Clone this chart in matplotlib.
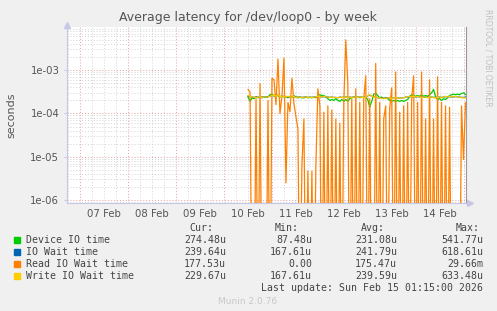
import matplotlib
matplotlib.use("Agg")
import matplotlib.pyplot as plt
import matplotlib.dates as mdates
from matplotlib.ticker import LogLocator, FixedLocator, NullFormatter
from matplotlib.patches import Rectangle
from datetime import datetime, timedelta

# hourly samples, hours counted from 10 Feb 2026 00:00
hours = list(range(12, 122))

device_io = [  # x 1e-4 s
    2.4, 1.9, 2.3, 2.2, 2.4, 2.3, 2.4, 2.3, 2.4, 2.35,
    2.4, 2.7, 2.8, 2.6, 2.5, 2.6, 2.4, 2.5, 2.4, 2.5,
    2.3, 2.5, 2.4, 2.6, 2.4, 2.3, 2.4, 2.3, 2.3, 2.4,
    2.3, 2.35, 2.3, 2.4, 2.3, 2.6, 2.7, 2.6, 2.6, 2.4,
    2.2, 2.0, 2.1, 2.0, 2.2, 2.0, 1.9, 2.1, 1.9, 2.1,
    1.9, 2.2, 2.3, 2.4, 2.3, 2.4, 2.3, 2.4, 2.3, 2.4,
    2.1, 1.4, 1.9, 2.8, 2.9, 2.6, 2.3, 2.4, 2.2, 2.3,
    2.2, 2.0, 1.9, 2.0, 1.9, 2.0, 1.9, 2.0, 1.9, 2.0,
    2.1, 2.5, 2.7, 2.6, 2.5, 2.6, 2.5, 2.7, 2.5, 2.6,
    2.5, 2.7, 3.0, 3.6, 2.4, 2.1, 2.2, 2.0, 2.2, 2.1,
    2.3, 2.6, 2.7, 2.8, 2.7, 2.8, 2.7, 2.9, 3.0, 2.75,
]
io_wait = [  # x 1e-4 s
    2.5, 2.5, 2.4, 2.35, 2.4, 2.4, 2.35, 2.4, 2.4, 2.4,
    2.45, 2.5, 2.6, 2.55, 2.6, 2.65, 2.5, 2.45, 2.5, 2.4,
    2.45, 2.4, 2.4, 2.45, 2.35, 2.4, 2.4, 2.35, 2.4, 2.4,
    2.35, 2.4, 2.35, 2.4, 2.4, 2.5, 2.45, 2.4, 2.45, 2.4,
    2.4, 2.35, 2.4, 2.35, 2.35, 2.3, 2.4, 2.35, 2.4, 2.4,
    2.4, 2.4, 2.35, 2.4, 2.4, 2.35, 2.4, 2.35, 2.35, 2.4,
    2.55, 2.65, 2.5, 2.45, 2.4, 2.3, 2.3, 2.25, 2.3, 2.25,
    2.3, 2.3, 2.25, 2.3, 2.3, 2.3, 2.25, 2.3, 2.3, 2.4,
    2.4, 2.45, 2.4, 2.45, 2.4, 2.45, 2.4, 2.35, 2.4, 2.4,
    2.35, 2.4, 2.4, 2.35, 2.35, 2.4, 2.4, 2.35, 2.4, 2.45,
    2.4, 2.45, 2.4, 2.4, 2.45, 2.4, 2.4, 2.35, 2.35, 2.4,
]
read_io = [  # seconds, 0 = no wait
    3.6e-4, 3.1e-4, 0, 0, 2.2e-4, 0, 4.9e-4, 0, 0, 0,
    2.0e-4, 0, 6.5e-4, 6.0e-4, 1.6e-4, 1.8e-3, 1.0e-4, 2.5e-4, 1.9e-3, 2.5e-6,
    1.8e-4, 1.1e-4, 6.5e-4, 1.7e-4, 8.5e-5, 4.4e-5, 0, 6.1e-6, 7.5e-5, 0,
    4.7e-6, 0, 4.7e-6, 0, 6.1e-6, 3.7e-4, 1.5e-4, 0, 1.07e-4, 0,
    1.5e-4, 0, 1.2e-4, 0, 7.5e-5, 0, 6.0e-5, 0, 1.8e-4, 5.0e-3,
    4.9e-4, 0, 2.2e-4, 0, 3.7e-4, 0, 1.8e-4, 0, 2.2e-4, 7.4e-4,
    0, 2.2e-4, 0, 0, 1.43e-3, 0, 1.8e-4, 0, 7.5e-5, 1.5e-4,
    0, 1.3e-4, 3.9e-4, 0, 9.1e-4, 0, 1.07e-4, 0, 1.5e-4, 0,
    1.8e-4, 0, 2.1e-4, 7.4e-4, 0, 1.8e-4, 0, 9.1e-4, 0, 7.5e-5,
    0, 6.0e-4, 0, 7.5e-5, 0, 7.0e-4, 0, 1.8e-4, 0, 1.5e-4,
    0, 1.4e-4, 0, 0, 0, 0, 0, 1.5e-4, 8.7e-6, 1.78e-4,
]
write_io = [  # x 1e-4 s
    2.6, 2.5, 2.4, 2.4, 2.3, 2.4, 2.4, 2.35, 2.4, 2.4,
    2.4, 2.5, 2.6, 2.6, 2.5, 2.7, 2.5, 2.4, 2.5, 2.4,
    2.5, 2.4, 2.4, 2.5, 2.3, 2.4, 2.4, 2.3, 2.4, 2.4,
    2.3, 2.4, 2.3, 2.4, 2.4, 2.5, 2.45, 2.4, 2.5, 2.4,
    2.4, 2.35, 2.4, 2.3, 2.35, 2.3, 2.4, 2.3, 2.4, 2.35,
    2.4, 2.4, 2.3, 2.4, 2.4, 2.35, 2.4, 2.35, 2.3, 2.4,
    2.6, 2.7, 2.5, 2.4, 2.4, 2.3, 2.3, 2.2, 2.3, 2.2,
    2.3, 2.3, 2.2, 2.3, 2.3, 2.3, 2.2, 2.3, 2.3, 2.4,
    2.4, 2.5, 2.4, 2.5, 2.4, 2.5, 2.4, 2.3, 2.4, 2.4,
    2.3, 2.4, 2.4, 2.3, 2.3, 2.4, 2.4, 2.3, 2.4, 2.5,
    2.4, 2.5, 2.4, 2.4, 2.5, 2.4, 2.4, 2.3, 2.3, 2.3,
]

labels = ['Device IO time', 'IO Wait time', 'Read IO Wait time', 'Write IO Wait time']
colors = ['#00cc00', '#0066b3', '#ff8000', '#ffcc00']
cur = ['274.48u', '239.64u', '177.53u', '229.67u']
mins = ['87.48u', '167.61u', '0.00', '167.61u']
avgs = ['231.08u', '241.79u', '175.47u', '239.59u']
maxs = ['541.77u', '618.61u', '29.66m', '633.48u']

W, H = 497, 311
fig = plt.figure(figsize=(W / 100, H / 100), dpi=100, facecolor='#f0f0f0')
ax = fig.add_axes([67 / W, 1 - 203 / H, 399 / W, 176 / H])
ax.set_facecolor('white')

base = datetime(2026, 2, 10)
t = [base + timedelta(hours=h) for h in hours]
series = [[v * 1e-4 for v in device_io], [v * 1e-4 for v in io_wait],
          read_io, [v * 1e-4 for v in write_io]]
for s, c in zip(series, colors):
    # zero values fall to the bottom of the log axis, like rrdtool does
    ax.plot(t, [v if v > 0 else 1e-9 for v in s], color=c, lw=0.9, zorder=3)

ax.set_yscale('log')
ax.set_ylim(8.6e-7, 9.9e-3)
ax.set_xlim(datetime(2026, 2, 6, 17, 15), datetime(2026, 2, 15, 1, 15))

ax.yaxis.set_major_locator(FixedLocator([1e-6, 1e-5, 1e-4, 1e-3]))
ax.yaxis.set_minor_locator(LogLocator(base=10, subs=range(2, 10), numticks=20))
ax.yaxis.set_minor_formatter(NullFormatter())
ax.set_yticklabels(['1e-06', '1e-05', '1e-04', '1e-03'])

ax.xaxis.set_major_locator(mdates.DayLocator())
ax.xaxis.set_major_formatter(plt.NullFormatter())
ax.xaxis.set_minor_locator(mdates.HourLocator(byhour=[6, 12, 18]))
ax.xaxis.set_minor_formatter(
    plt.FuncFormatter(lambda x, p: mdates.num2date(x).strftime('%d %b')
                      if mdates.num2date(x).hour == 12 else ''))

ax.grid(which='major', color='#e6a0a0', ls=(0, (1, 2)), lw=0.7)
ax.grid(which='minor', color='#d4d4d4', ls=(0, (1, 2)), lw=0.7)
ax.set_axisbelow(True)

ax.tick_params(which='both', colors='#c8c8e6', labelcolor='#555555', labelsize=7.3, length=2)
ax.tick_params(axis='y', which='minor', length=0)
ax.tick_params(axis='x', which='minor', length=0, pad=4)
ax.tick_params(axis='x', which='major', length=0)

ax.spines['top'].set_visible(False)
ax.spines['left'].set_color('#c8c8e6')
ax.spines['bottom'].set_color('#c8c8e6')
ax.spines['right'].set_color('#999999')
ax.plot([0], [1.01], marker='^', color='#c8c8e6', ms=4, transform=ax.transAxes, clip_on=False)
ax.plot([1.01], [0], marker='>', color='#c8c8e6', ms=4, transform=ax.transAxes, clip_on=False)

ax.set_ylabel('seconds', color='#555555', fontsize=8, labelpad=10)
fig.text(248 / W, 1 - 18 / H, 'Average latency for /dev/loop0 - by week',
         ha='center', va='center', fontsize=9, color='#555555')
fig.text(488 / W, 1 - 58 / H, 'RRDTOOL / TOBI OETIKER', rotation=270, ha='center',
         va='center', fontsize=5.5, color='#c0c0c0')

mono = dict(family='DejaVu Sans Mono', fontsize=7.1, color='#444444', va='center')
fig.text(213 / W, 1 - 228 / H, 'Cur:', ha='right', **mono)
fig.text(299 / W, 1 - 228 / H, 'Min:', ha='right', **mono)
fig.text(385 / W, 1 - 228 / H, 'Avg:', ha='right', **mono)
fig.text(480 / W, 1 - 228 / H, 'Max:', ha='right', **mono)
for i, lab in enumerate(labels):
    y = 240 + i * 11.9
    fig.patches.append(Rectangle((14 / W, 1 - (y + 3) / H), 6 / W, 6 / H,
                                 transform=fig.transFigure, color=colors[i]))
    fig.text(26 / W, 1 - y / H, lab, ha='left', **mono)
    fig.text(226 / W, 1 - y / H, cur[i], ha='right', **mono)
    fig.text(312 / W, 1 - y / H, mins[i], ha='right', **mono)
    fig.text(397 / W, 1 - y / H, avgs[i], ha='right', **mono)
    fig.text(483 / W, 1 - y / H, maxs[i], ha='right', **mono)
fig.text(483 / W, 1 - 288 / H, 'Last update: Sun Feb 15 01:15:00 2026', ha='right', **mono)
fig.text(248 / W, 1 - 301 / H, 'Munin 2.0.76', ha='center', va='center',
         fontsize=6.5, color='#c8c8c8')

fig.savefig('out.png', dpi=100, facecolor=fig.get_facecolor())
